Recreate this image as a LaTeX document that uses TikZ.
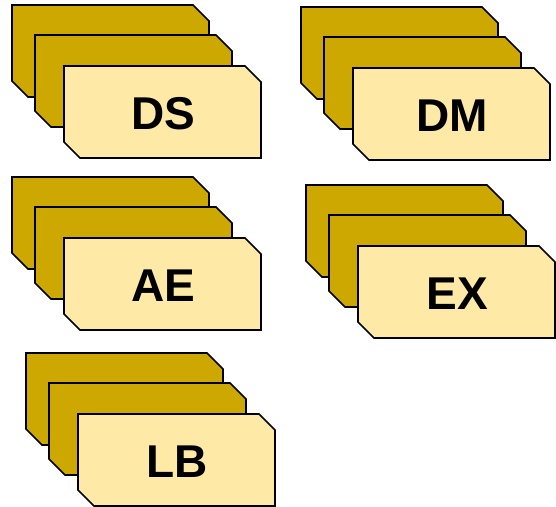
\documentclass[tikz,border=0pt]{standalone}
\usepackage{fontspec}
\setmainfont{Liberation Sans}
\definecolor{cardgold}{RGB}{204,168,0}
\definecolor{cardcream}{RGB}{255,233,166}
\tikzset{
  card/.pic={
    \path[pic actions] (0,0) -- (181,0) -- (197,16) -- (197,92) -- (16,92) -- (0,76) -- cycle;
  },
  backcard/.style={draw=black, line width=1.6bp, fill=cardgold, line join=miter},
  frontcard/.style={draw=black, line width=1.6bp, fill=cardcream, line join=miter},
  lbl/.style={font=\fontsize{46bp}{46bp}\selectfont\bfseries, inner sep=0pt, anchor=center},
}
% one stack of three cards; #1,#2 = top-left corner of the rearmost card
\newcommand\cardstack[4]{%
  \pic[backcard] at (#1,#2) {card};
  \pic[backcard] at ({#1+23},{#2+30}) {card};
  \pic[frontcard] at ({#1+52},{#2+61}) {card};
  \node[lbl] (#3) at ({#1+52+99.5},{#2+61+47.5}) {#4};
}
\begin{document}
\begin{tikzpicture}[x=1bp, y=-1bp]
  \useasboundingbox (0,0) rectangle (556,507);
  \cardstack{12}{5}{ds}{DS}
  \cardstack{301}{7}{dm}{DM}
  \cardstack{12}{177}{ae}{AE}
  \cardstack{306}{185}{ex}{EX}
  \cardstack{26}{353}{lb}{LB}
\end{tikzpicture}
\end{document}
